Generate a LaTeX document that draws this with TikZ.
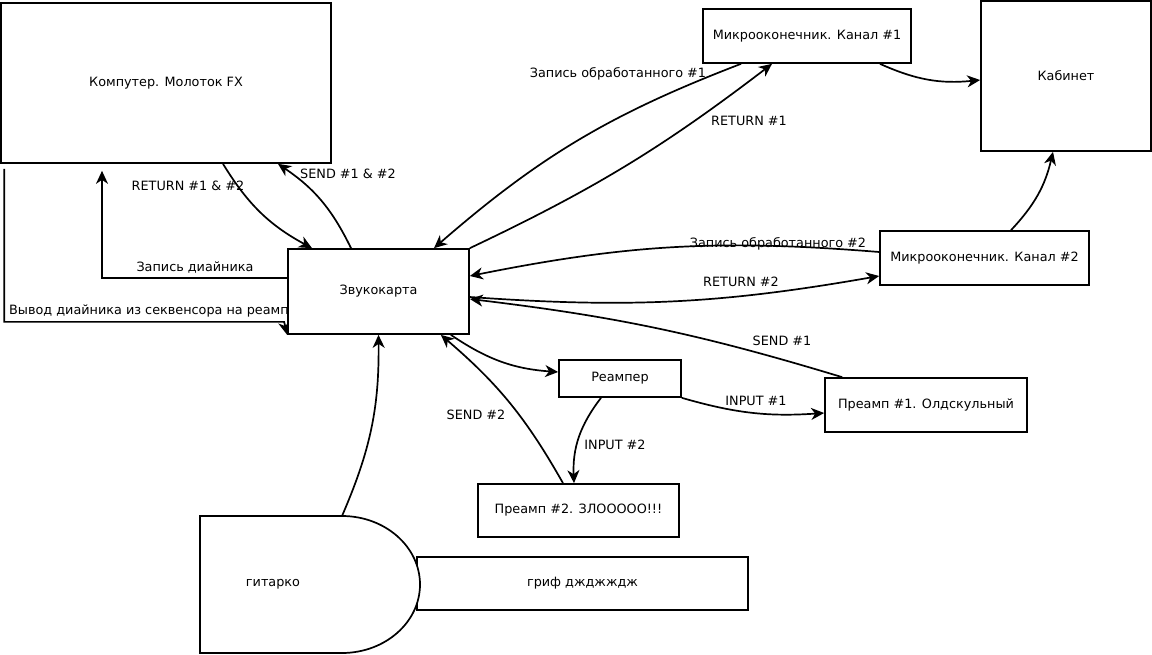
\documentclass[tikz,border=0pt]{standalone}
\usepackage{fontspec}
\setmainfont{DejaVu Sans}
\usetikzlibrary{arrows.meta,backgrounds}
\tikzset{
  blok/.style={draw,fill=white,line width=1.7pt,inner sep=0pt,font=\fontsize{12.8}{15}\selectfont},
  svyaz/.style={-{Stealth[length=13pt,width=12pt,inset=4pt]},line width=1.7pt},
  podpis/.style={font=\fontsize{12.8}{15}\selectfont,inner sep=0pt}
}
\begin{document}
\begin{tikzpicture}[x=1pt,y=-1pt]
% bloki
\node[blok,minimum width=330pt,minimum height=160pt] (komp) at (166,83) {Компутер. Молоток FX};
\node[blok,minimum width=208pt,minimum height=54pt] (mik1) at (807,36) {Микрооконечник. Канал \#1};
\node[blok,minimum width=170pt,minimum height=150pt] (kab) at (1066,76) {Кабинет};
\node[blok,minimum width=181pt,minimum height=85pt] (karta) at (378.5,291.5) {Звукокарта};
\node[blok,minimum width=209pt,minimum height=54pt] (mik2) at (984.5,258) {Микрооконечник. Канал \#2};
\node[blok,minimum width=122pt,minimum height=37pt] (reamp) at (620,378.5) {Реампер};
\node[blok,minimum width=202pt,minimum height=54pt] (pre1) at (926,405) {Преамп \#1. Олдскульный};
\node[blok,minimum width=201pt,minimum height=53pt] (pre2) at (578.5,510.5) {Преамп \#2. ЗЛООООО!!!};
\node[blok,minimum width=331pt,minimum height=53pt] (grif) at (582.5,583.5) {гриф джджждж};
% gitara
\coordinate (gverh) at (342,516);
\draw[line width=1.7pt,fill=white] (200,516) -- (gverh) arc[start angle=90,end angle=-90,x radius=78pt,y radius=68.5pt] -- (200,653) -- cycle;
\node[podpis] (gitara) at (273,584) {гитарко};
\begin{pgfonlayer}{background}
\fill[white] (0,0) rectangle (1152,654);
% svyazi
\draw[svyaz] ([xshift=57pt]komp.south) to[bend right=15] ([xshift=-66.5pt]karta.north);
\draw[svyaz] ([xshift=-27.5pt]karta.north) to[bend right=15] ([xshift=112pt]komp.south);
\draw[svyaz] ([yshift=13.5pt]karta.west) -| ([xshift=-64pt,yshift=-7pt]komp.south);
\draw[svyaz] ([xshift=4pt,yshift=-5pt]komp.south west) |- ([xshift=-3pt,yshift=13pt]karta.south west) -- (karta.south west);
\draw[svyaz] ([xshift=-66pt]mik1.south) to[bend right=10] ([xshift=55.5pt]karta.north);
\draw[svyaz] (karta.north east) to[bend right=6] ([xshift=-35pt]mik1.south);
\draw[svyaz] ([xshift=73pt]mik1.south) to[bend right=15] ([yshift=-4pt]kab.west);
\draw[svyaz] ([xshift=26.5pt]mik2.north) to[bend right=15] ([xshift=-13pt]kab.south);
\draw[svyaz] ([yshift=6pt]mik2.west) to[bend right=8] ([yshift=15.5pt]karta.east);
\draw[svyaz] ([yshift=-5.5pt]karta.east) to[bend right=7] ([yshift=-18pt]mik2.west);
\draw[svyaz] ([xshift=18pt]pre1.north west) to[bend right=5] ([yshift=-7.5pt]karta.east);
\draw[svyaz] ([xshift=-19pt]karta.south east) to[bend right=15] ([yshift=6.5pt]reamp.west);
\draw[svyaz] (reamp.south east) to[bend right=10] ([yshift=-8pt]pre1.west);
\draw[svyaz] ([xshift=-19pt]reamp.south) to[bend right=20] ([xshift=-4.5pt]pre2.north);
\draw[svyaz] ([xshift=-15.5pt]pre2.north) to[bend right=10] ([xshift=-29pt]karta.south east);
\draw[svyaz] (gverh) to[bend right=12] (karta.south);
% podpisi
\node[podpis] (p1) at (188,186) {RETURN \#1 \& \#2};
\node[podpis] (p2) at (348,174) {SEND \#1 \& \#2};
\node[podpis] (p3) at (195,268) {Запись диайника};
\node[podpis,anchor=west] (p4) at (9,311) {Вывод диайника из секвенсора на реамп};
\node[podpis] (p5) at (618,74) {Запись обработанного \#1};
\node[podpis] (p6) at (749,121) {RETURN \#1};
\node[podpis] (p7) at (778,244) {Запись обработанного \#2};
\node[podpis] (p8) at (741,282) {RETURN \#2};
\node[podpis] (p9) at (782,341) {SEND \#1};
\node[podpis] (p10) at (756,401) {INPUT \#1};
\node[podpis] (p11) at (615,445) {INPUT \#2};
\node[podpis] (p12) at (476,415) {SEND \#2};
\end{pgfonlayer}
\end{tikzpicture}
\end{document}
